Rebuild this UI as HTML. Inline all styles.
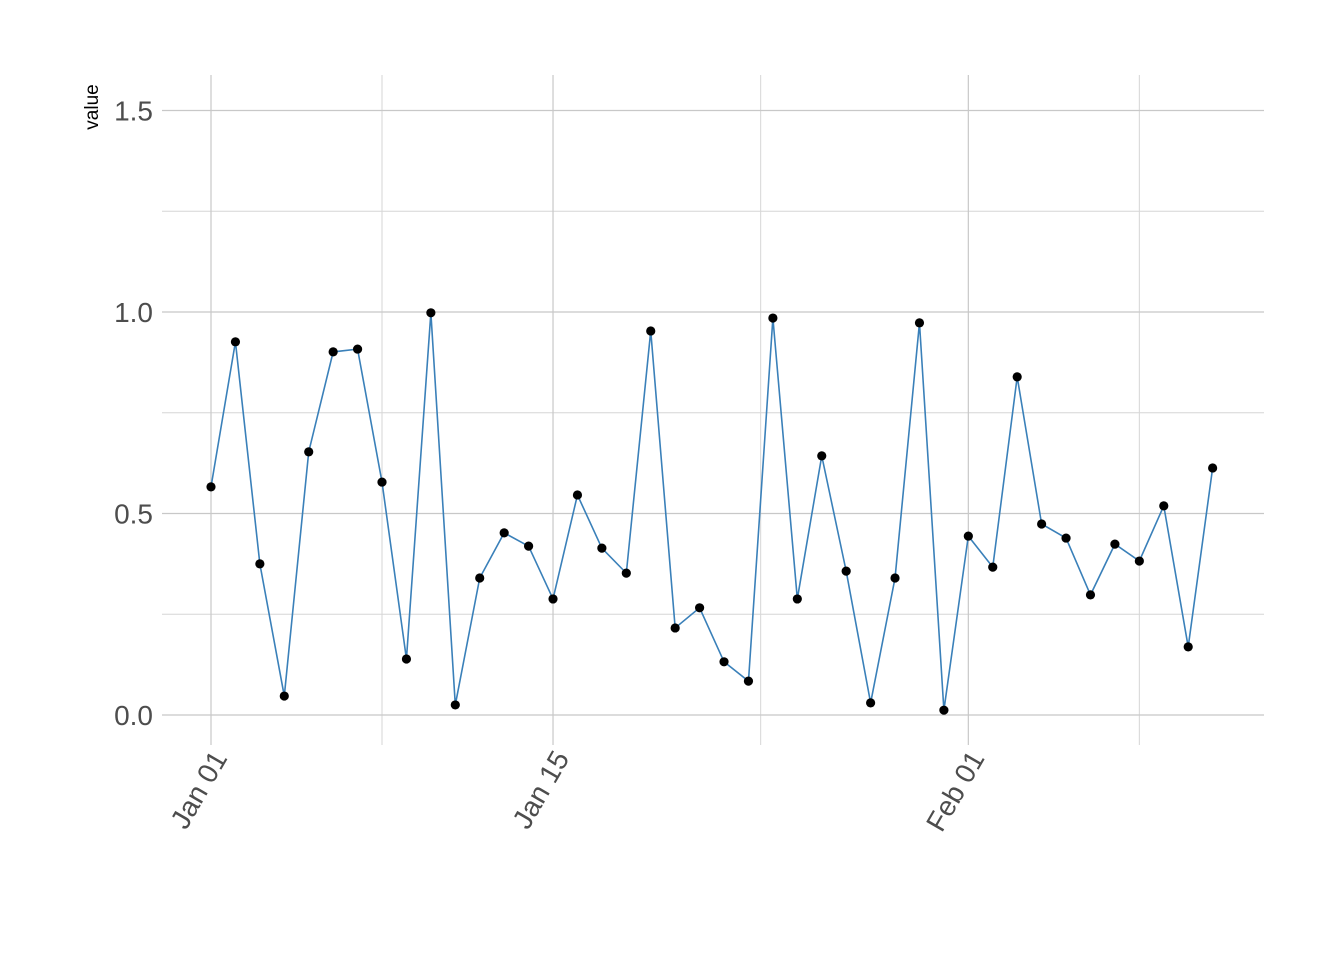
<!DOCTYPE html>
<html><head><meta charset="utf-8"><style>
body{margin:0;background:#fff}
svg text{font-family:"Liberation Sans",sans-serif}
</style></head><body>
<svg id="chart" width="1344" height="960" xmlns="http://www.w3.org/2000/svg">
<g id="grid"></g>
<g id="axes"></g>
<g id="series"></g>
<text transform="translate(98,107) rotate(-90)" text-anchor="middle" font-size="19" fill="#000">value</text>
</svg>
<script>
const values=[0.566,0.926,0.375,0.047,0.653,0.901,0.908,0.578,0.139,0.998,0.025,0.340,0.452,0.419,0.288,0.546,0.414,0.352,0.953,0.216,0.266,0.132,0.084,0.985,0.288,0.643,0.357,0.030,0.340,0.973,0.012,0.444,0.367,0.839,0.474,0.439,0.298,0.424,0.382,0.519,0.169,0.613];
const yTicks=[0,0.5,1.0,1.5];
const yTickLabels=["0.0","0.5","1.0","1.5"];
const yMinor=[0.25,0.75,1.25];
const xTicks=[0,14,31];
const xTickLabels=["Jan 01","Jan 15","Feb 01"];
const xMinor=[7,22.5,38];

const NS="http://www.w3.org/2000/svg";
const X=d=>211+d*24.43, Y=v=>715-v*403;
const L=162,R=1264,T=75,B=745;
function mk(tag,attrs,parent){const e=document.createElementNS(NS,tag);for(const k in attrs)e.setAttribute(k,attrs[k]);parent.appendChild(e);return e;}
const grid=document.getElementById('grid'),axes=document.getElementById('axes'),series=document.getElementById('series');
yMinor.forEach(v=>{const l=mk('line',{x1:L,x2:R,y1:Y(v),y2:Y(v),stroke:'#d6d6d6','stroke-width':1},grid);

});
xMinor.forEach(d=>{const l=mk('line',{x1:X(d),x2:X(d),y1:T,y2:B,stroke:'#d6d6d6','stroke-width':1},grid);

});
yTicks.forEach((v,i)=>{const l=mk('line',{x1:L,x2:R,y1:Y(v),y2:Y(v),stroke:'#c8c8c8','stroke-width':1.2},grid);


const t=mk('text',{x:153,y:Y(v)+10,'text-anchor':'end','font-size':28,fill:'#4d4d4d'},axes);t.textContent=yTickLabels[i];

});
xTicks.forEach((d,i)=>{const l=mk('line',{x1:X(d),x2:X(d),y1:T,y2:B,stroke:'#c8c8c8','stroke-width':1.2},grid);


const t=mk('text',{transform:`translate(${X(d)+17},${758}) rotate(-60)`,'text-anchor':'end','font-size':28,fill:'#4d4d4d'},axes);t.textContent=xTickLabels[i];

});
const pl=mk('polyline',{points:values.map((v,i)=>X(i)+','+Y(v)).join(' '),fill:'none',stroke:'#3a80b9','stroke-width':1.6},series);


values.forEach((v,i)=>{const c=mk('circle',{cx:X(i),cy:Y(v),r:4.6,fill:'#000'},series);

});
</script>
</body></html>
